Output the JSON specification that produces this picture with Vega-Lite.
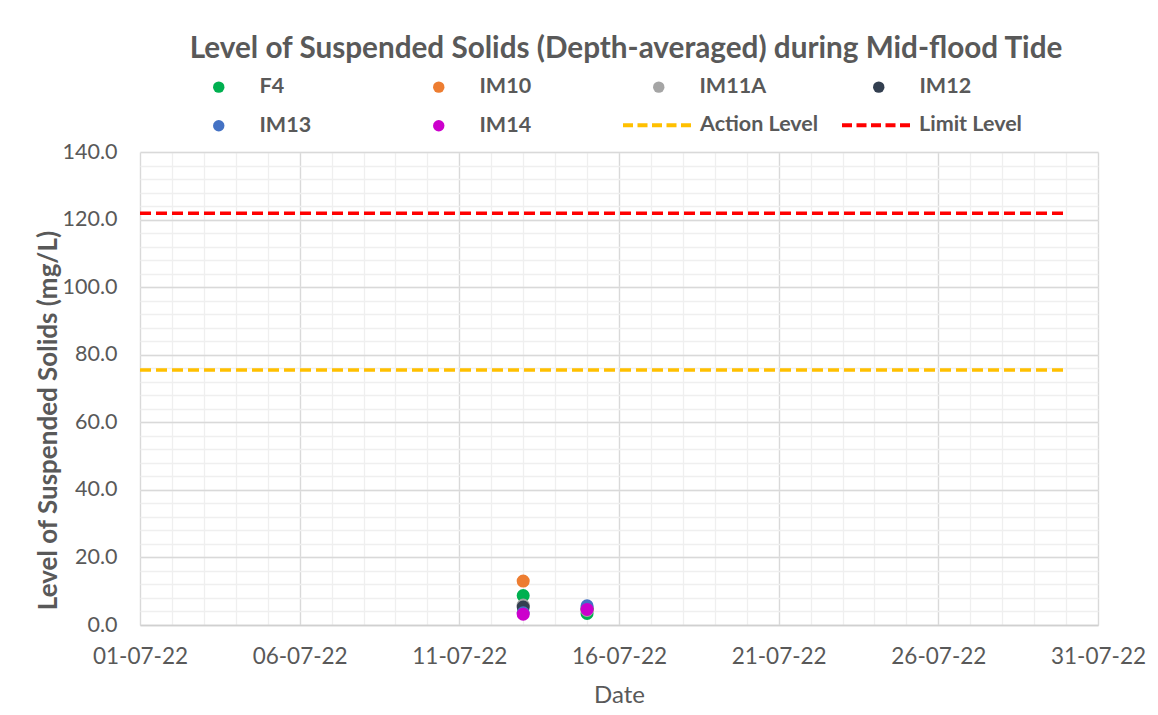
{
  "$schema": "https://vega.github.io/schema/vega-lite/v6.json",
  "width": 958,
  "height": 473,
  "autosize": {"type": "none"},
  "padding": {"left": 140, "top": 152, "right": 60, "bottom": 90},
  "background": "white",
  "config": {"view": {"stroke": null}, "font": "Lato"},
  "title": {
    "text": "Level of Suspended Solids (Depth-averaged) during Mid-flood Tide",
    "fontSize": 29.7,
    "fontWeight": "bold",
    "color": "#595959",
    "anchor": "middle",
    "dx": 7,
    "offset": 11
  },
  "layer": [
    {
      "data": {
        "values": [
          {"level": "Action Level", "date": "2022-07-01T00:00:00", "value": 75.5},
          {"level": "Action Level", "date": "2022-07-30T00:00:00", "value": 75.5},
          {"level": "Limit Level", "date": "2022-07-01T00:00:00", "value": 121.9},
          {"level": "Limit Level", "date": "2022-07-30T00:00:00", "value": 121.9}
        ]
      },
      "mark": {"type": "line", "strokeWidth": 3.5, "strokeDash": [11, 5]},
      "encoding": {
        "x": {
          "field": "date",
          "type": "temporal",
          "scale": {"domain": [{"year": 2022, "month": 7, "date": 1}, {"year": 2022, "month": 7, "date": 31}], "nice": false},
          "axis": {
            "orient": "top",
            "grid": true,
            "gridColor": "#efefef",
            "gridWidth": 1.3,
            "labels": false,
            "ticks": false,
            "domain": false,
            "title": null,
            "tickCount": {"interval": "day", "step": 1}
          }
        },
        "y": {
          "field": "value",
          "type": "quantitative",
          "scale": {"domain": [0, 140], "nice": false, "zero": true},
          "axis": {
            "orient": "right",
            "grid": true,
            "gridColor": "#efefef",
            "gridWidth": 1.3,
            "labels": false,
            "ticks": false,
            "domain": false,
            "title": null,
            "values": [0, 4, 8, 12, 16, 20, 24, 28, 32, 36, 40, 44, 48, 52, 56, 60, 64, 68, 72, 76, 80, 84, 88, 92, 96, 100, 104, 108, 112, 116, 120, 124, 128, 132, 136, 140]
          }
        },
        "stroke": {
          "field": "level",
          "type": "nominal",
          "scale": {"domain": ["Action Level", "Limit Level"], "range": ["#FFC000", "#FF0000"]},
          "legend": {
            "orient": "none",
            "legendX": 481,
            "legendY": -64,
            "direction": "horizontal",
            "title": null,
            "symbolType": "stroke",
            "symbolSize": 4900,
            "symbolStrokeWidth": 4,
            "symbolDash": [10, 4.5],
            "labelOffset": 5,
            "labelFontSize": 21.5,
            "labelFontWeight": "bold",
            "labelColor": "#595959",
            "columnPadding": 15,
            "padding": 0
          }
        }
      }
    },
    {
      "data": {
        "values": [
          {"station": "F4", "date": "2022-07-13T00:00:00", "value": 8.7},
          {"station": "F4", "date": "2022-07-15T00:00:00", "value": 3.4},
          {"station": "IM10", "date": "2022-07-13T00:00:00", "value": 13.0},
          {"station": "IM10", "date": "2022-07-15T00:00:00", "value": 4.5},
          {"station": "IM11A", "date": "2022-07-13T00:00:00", "value": 5.9},
          {"station": "IM11A", "date": "2022-07-15T00:00:00", "value": 4.3},
          {"station": "IM12", "date": "2022-07-13T00:00:00", "value": 5.3},
          {"station": "IM12", "date": "2022-07-15T00:00:00", "value": 4.9},
          {"station": "IM13", "date": "2022-07-13T00:00:00", "value": 3.6},
          {"station": "IM13", "date": "2022-07-15T00:00:00", "value": 5.7},
          {"station": "IM14", "date": "2022-07-13T00:00:00", "value": 3.2},
          {"station": "IM14", "date": "2022-07-15T00:00:00", "value": 4.6}
        ]
      },
      "mark": {"type": "circle", "size": 170, "opacity": 1},
      "encoding": {
        "x": {
          "field": "date",
          "type": "temporal",
          "axis": {
            "orient": "bottom",
            "grid": true,
            "gridColor": "#d9d9d9",
            "gridWidth": 1.3,
            "ticks": false,
            "domain": true,
            "domainColor": "#d0d0d0",
            "domainWidth": 1.5,
            "tickCount": {"interval": "day", "step": 5},
            "format": "%d-%m-%y",
            "labelFontSize": 22.5,
            "labelColor": "#595959",
            "labelPadding": 20,
            "labelFlush": false,
            "title": "Date",
            "titleFontSize": 24,
            "titleFontWeight": "normal",
            "titleColor": "#595959",
            "titlePadding": 16
          }
        },
        "y": {
          "field": "value",
          "type": "quantitative",
          "axis": {
            "orient": "left",
            "grid": true,
            "gridColor": "#d9d9d9",
            "gridWidth": 1.3,
            "ticks": false,
            "domain": false,
            "values": [0, 20, 40, 60, 80, 100, 120, 140],
            "format": ".1f",
            "labelFontSize": 21.5,
            "labelColor": "#595959",
            "labelPadding": 23,
            "labelFlush": false,
            "title": "Level of Suspended Solids (mg/L)",
            "titleFontSize": 26,
            "titleFontWeight": "bold",
            "titleColor": "#595959",
            "titleAngle": 270,
            "titleAlign": "center",
            "titleBaseline": "middle",
            "titleX": -92,
            "titleY": 268
          }
        },
        "fill": {
          "field": "station",
          "type": "nominal",
          "sort": null,
          "scale": {
            "domain": ["F4", "IM10", "IM11A", "IM12", "IM13", "IM14"],
            "range": ["#00B050", "#ED7D31", "#A5A5A5", "#333F50", "#4472C4", "#CC00CC"]
          },
          "legend": {
            "orient": "none",
            "legendX": 68,
            "legendY": -76,
            "columns": 4,
            "direction": "horizontal",
            "title": null,
            "symbolType": "circle",
            "symbolSize": 130,
            "symbolStrokeWidth": 0,
            "symbolOpacity": 1,
            "labelOffset": 30,
            "labelFontSize": 21.5,
            "labelFontWeight": "bold",
            "labelColor": "#595959",
            "columnPadding": 101,
            "rowPadding": 16,
            "gridAlign": "all",
            "padding": 0
          }
        }
      }
    }
  ],
  "resolve": {"axis": {"x": "independent", "y": "independent"}}
}
